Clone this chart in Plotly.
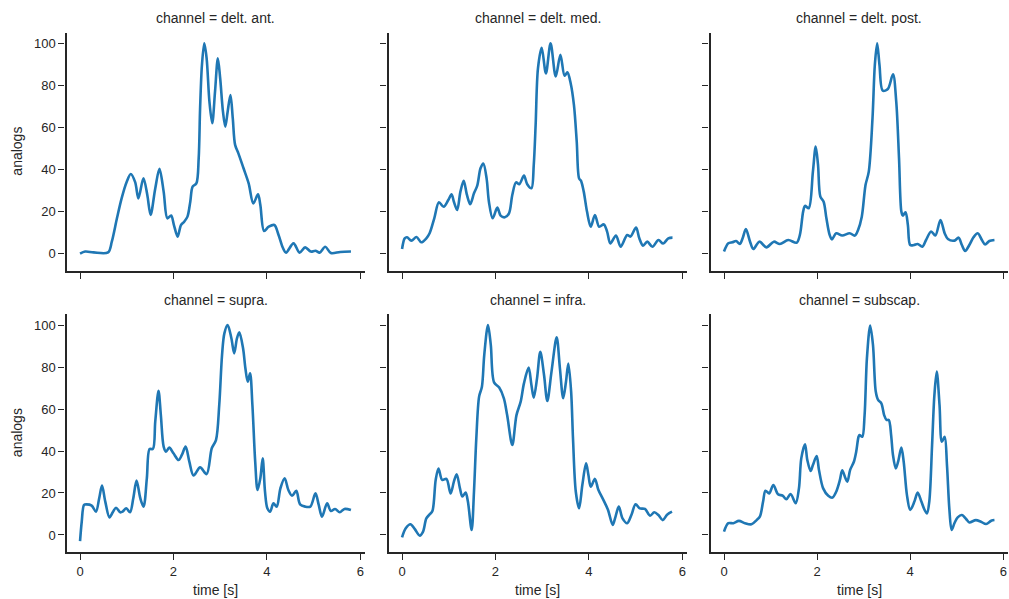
import plotly.graph_objects as go

channels = ["delt. ant.", "delt. med.", "delt. post.", "supra.", "infra.", "subscap."]

t_delt_ant = [0, 0.11, 0.29, 0.6, 0.68, 0.79, 0.89, 1.0, 1.086, 1.18, 1.25, 1.357, 1.44, 1.51, 1.61, 1.7, 1.79, 1.87, 1.95, 2.01, 2.09, 2.16, 2.23, 2.3, 2.36, 2.41, 2.49, 2.54, 2.57, 2.61, 2.66, 2.71, 2.77, 2.83, 2.89, 2.95, 3.0, 3.06, 3.11, 3.16, 3.22, 3.27, 3.32, 3.39, 3.5, 3.61, 3.71, 3.81, 3.86, 3.94, 4.04, 4.16, 4.25, 4.34, 4.41, 4.57, 4.7, 4.82, 4.94, 5.04, 5.13, 5.25, 5.37, 5.57, 5.8]
v_delt_ant = [0, 1.0, 0.6, 0.6, 5.7, 16.8, 26.3, 34.2, 37.9, 34.0, 26.3, 35.8, 27.9, 18.4, 31.0, 40.3, 29.5, 16.8, 18.1, 13.6, 8.1, 13.6, 15.2, 17.6, 24.7, 31.9, 33.4, 45.3, 69.0, 89.7, 100.0, 92.9, 72.3, 62.0, 77.0, 92.9, 83.4, 67.5, 60.4, 67.5, 75.4, 64.3, 51.7, 47.7, 40.6, 33.4, 23.9, 28.2, 23.1, 10.8, 12.8, 13.6, 8.9, 2.9, 0.5, 4.9, 0.5, 3.0, 1.0, 1.4, 0.5, 3.3, 0.3, 0.8, 1.0]

t_delt_med = [0, 0.057, 0.107, 0.2, 0.31, 0.41, 0.52, 0.59, 0.69, 0.79, 0.89, 0.99, 1.06, 1.11, 1.18, 1.25, 1.32, 1.39, 1.46, 1.54, 1.61, 1.68, 1.74, 1.81, 1.86, 1.94, 2.04, 2.11, 2.2, 2.29, 2.36, 2.44, 2.51, 2.61, 2.68, 2.77, 2.82, 2.86, 2.91, 2.99, 3.08, 3.18, 3.29, 3.39, 3.48, 3.54, 3.61, 3.68, 3.74, 3.79, 3.83, 3.89, 3.96, 4.04, 4.13, 4.22, 4.32, 4.39, 4.46, 4.58, 4.68, 4.82, 4.89, 5.01, 5.08, 5.16, 5.25, 5.36, 5.49, 5.59, 5.7, 5.79]
v_delt_med = [2.2, 7.3, 7.8, 6.2, 7.9, 5.4, 7.3, 9.7, 16.8, 24.4, 22.3, 25.5, 28.2, 24.7, 20.8, 29.5, 34.7, 27.9, 23.5, 28.7, 32.3, 40.6, 42.9, 35.8, 24.7, 16.8, 21.9, 18.1, 17.3, 19.2, 27.9, 33.9, 33.0, 37.1, 33.0, 31.1, 42.2, 61.2, 88.1, 97.9, 85.7, 100.0, 84.2, 94.5, 84.6, 86.2, 81.0, 70.7, 53.2, 35.8, 34.7, 29.5, 20.0, 12.8, 18.4, 12.8, 13.9, 10.5, 4.9, 8.6, 3.3, 8.9, 8.1, 12.4, 7.3, 3.8, 5.7, 3.3, 6.5, 4.8, 7.3, 7.6]

t_delt_post = [0, 0.093, 0.18, 0.26, 0.34, 0.4, 0.47, 0.56, 0.63, 0.76, 0.91, 1.07, 1.2, 1.38, 1.56, 1.63, 1.7, 1.74, 1.82, 1.91, 1.97, 2.02, 2.07, 2.14, 2.2, 2.27, 2.32, 2.41, 2.54, 2.7, 2.81, 2.88, 2.96, 3.04, 3.11, 3.19, 3.24, 3.29, 3.34, 3.41, 3.52, 3.63, 3.7, 3.76, 3.81, 3.84, 3.9, 3.95, 4.0, 4.08, 4.16, 4.26, 4.34, 4.45, 4.54, 4.65, 4.74, 4.81, 4.95, 5.04, 5.11, 5.18, 5.27, 5.36, 5.45, 5.54, 5.61, 5.7, 5.81]
v_delt_post = [1.0, 4.9, 5.4, 6.0, 4.6, 7.3, 11.7, 5.7, 2.2, 5.7, 3.0, 5.7, 4.6, 6.5, 5.2, 8.9, 20.0, 22.7, 21.6, 39.0, 50.9, 42.2, 27.1, 24.7, 16.8, 8.9, 6.8, 9.7, 8.6, 9.7, 8.6, 11.3, 17.6, 32.6, 39.0, 64.3, 89.7, 100.0, 89.7, 77.5, 78.3, 85.3, 72.3, 45.3, 20.0, 18.1, 19.7, 13.6, 4.1, 4.1, 4.6, 3.3, 6.5, 10.5, 8.6, 16.0, 9.7, 7.0, 6.2, 7.6, 4.1, 1.3, 4.1, 7.8, 9.7, 6.5, 4.4, 6.0, 6.5]

t_supra = [0, 0.036, 0.086, 0.14, 0.25, 0.34, 0.41, 0.47, 0.54, 0.63, 0.7, 0.77, 0.86, 0.91, 0.99, 1.07, 1.14, 1.21, 1.29, 1.36, 1.43, 1.49, 1.56, 1.61, 1.68, 1.73, 1.79, 1.84, 1.91, 2.0, 2.11, 2.18, 2.26, 2.34, 2.43, 2.57, 2.71, 2.82, 2.91, 2.98, 3.04, 3.09, 3.16, 3.24, 3.3, 3.36, 3.41, 3.49, 3.54, 3.59, 3.64, 3.69, 3.75, 3.8, 3.86, 3.91, 3.96, 4.01, 4.07, 4.14, 4.21, 4.29, 4.38, 4.46, 4.54, 4.63, 4.71, 4.82, 4.93, 5.04, 5.11, 5.18, 5.29, 5.37, 5.46, 5.56, 5.66, 5.8]
v_supra = [-2.9, 6.3, 14.3, 14.6, 14.0, 11.1, 17.5, 23.5, 15.9, 8.4, 10.8, 13.0, 10.8, 11.1, 12.7, 10.8, 17.5, 25.9, 17.5, 13.5, 27.0, 41.0, 41.0, 54.0, 68.7, 57.1, 42.1, 39.7, 41.6, 38.9, 35.7, 38.1, 42.1, 34.9, 28.3, 32.2, 29.0, 41.3, 45.2, 61.9, 85.7, 96.0, 100.0, 93.7, 86.5, 93.7, 96.5, 88.9, 79.4, 73.0, 77.0, 61.9, 34.9, 21.4, 27.0, 36.5, 20.6, 12.7, 11.1, 15.1, 13.5, 22.2, 27.0, 21.4, 18.7, 21.0, 14.6, 13.5, 13.5, 19.8, 14.3, 8.7, 15.1, 11.4, 12.4, 10.8, 12.4, 11.9]

t_infra = [0, 0.079, 0.18, 0.27, 0.38, 0.45, 0.52, 0.59, 0.65, 0.72, 0.78, 0.86, 0.95, 1.04, 1.11, 1.17, 1.24, 1.29, 1.36, 1.41, 1.49, 1.54, 1.59, 1.65, 1.71, 1.76, 1.84, 1.9, 1.97, 2.08, 2.18, 2.25, 2.36, 2.45, 2.54, 2.61, 2.71, 2.77, 2.82, 2.89, 2.96, 3.04, 3.11, 3.2, 3.31, 3.38, 3.45, 3.51, 3.56, 3.62, 3.66, 3.72, 3.79, 3.86, 3.94, 3.99, 4.04, 4.13, 4.2, 4.31, 4.41, 4.51, 4.56, 4.64, 4.72, 4.82, 4.91, 5.0, 5.09, 5.2, 5.31, 5.4, 5.49, 5.58, 5.68, 5.78]
v_infra = [-1.1, 3.2, 5.1, 2.9, -0.3, 1.6, 7.9, 9.8, 11.4, 26.2, 31.7, 26.2, 26.7, 19.8, 25.4, 28.9, 22.2, 18.3, 20.2, 15.9, 2.4, 20.6, 46.0, 65.9, 70.6, 85.7, 100.0, 90.5, 72.7, 70.2, 65.1, 57.1, 42.9, 57.1, 63.5, 72.2, 79.7, 71.4, 65.4, 74.6, 87.3, 76.2, 63.8, 77.8, 94.1, 79.4, 65.1, 73.0, 81.7, 68.3, 46.0, 20.6, 12.7, 23.8, 34.1, 28.6, 23.0, 26.7, 21.7, 16.7, 11.9, 4.8, 7.9, 13.5, 7.9, 5.6, 9.5, 14.6, 12.7, 12.4, 9.2, 10.8, 9.5, 7.1, 9.8, 11.1]

t_subscap = [0, 0.093, 0.2, 0.32, 0.45, 0.59, 0.7, 0.77, 0.84, 0.89, 0.97, 1.06, 1.16, 1.26, 1.34, 1.43, 1.54, 1.61, 1.66, 1.74, 1.79, 1.86, 1.91, 1.99, 2.04, 2.13, 2.24, 2.33, 2.41, 2.49, 2.54, 2.61, 2.65, 2.71, 2.79, 2.84, 2.89, 2.91, 2.97, 3.02, 3.07, 3.14, 3.2, 3.26, 3.31, 3.38, 3.44, 3.49, 3.54, 3.59, 3.63, 3.69, 3.74, 3.81, 3.86, 3.93, 4.0, 4.09, 4.16, 4.24, 4.31, 4.36, 4.41, 4.47, 4.52, 4.57, 4.63, 4.68, 4.74, 4.79, 4.84, 4.89, 4.95, 5.02, 5.11, 5.2, 5.27, 5.41, 5.52, 5.63, 5.74, 5.81]
v_subscap = [1.6, 5.6, 5.6, 6.7, 5.6, 5.1, 7.1, 8.7, 15.9, 21.1, 19.8, 23.8, 19.4, 18.7, 17.0, 19.5, 15.1, 22.2, 36.5, 43.2, 35.7, 30.5, 33.3, 37.6, 31.0, 22.2, 18.7, 17.8, 20.6, 26.2, 30.8, 27.0, 25.4, 31.0, 34.9, 39.7, 46.8, 47.6, 46.8, 57.1, 84.1, 99.7, 90.5, 68.3, 64.3, 62.7, 57.1, 54.8, 54.8, 47.6, 38.1, 31.7, 34.9, 41.6, 34.9, 19.0, 11.9, 15.9, 20.2, 15.9, 11.9, 10.3, 15.9, 42.9, 66.7, 77.8, 61.9, 44.4, 46.8, 33.3, 12.7, 2.4, 5.6, 8.4, 9.5, 7.6, 6.0, 7.1, 6.3, 5.2, 6.8, 7.1]

times = [t_delt_ant, t_delt_med, t_delt_post, t_supra, t_infra, t_subscap]
values = [v_delt_ant, v_delt_med, v_delt_post, v_supra, v_infra, v_subscap]

y_ticks = [0, 20, 40, 60, 80, 100]
x_ticks = [0, 2, 4, 6]

W, H = 1009, 599
col_px = [(66.5, 364.5), (388.5, 686.5), (710.5, 1007.5)]
row_px = [(32.5, 270.8), (314.2, 552.1)]  # top, bottom (pixels from top)

INK = "#262626"
FONT = "Liberation Sans, Arial, sans-serif"
LINE = "#1f77b4"

def px_x(p):
    return p / W

def px_y(p):
    return (H - p) / H

fig = go.Figure()
annotations = []
for i, ch in enumerate(channels):
    r, c = divmod(i, 3)
    n = i + 1
    xa = "x" if n == 1 else f"x{n}"
    ya = "y" if n == 1 else f"y{n}"
    fig.add_trace(go.Scatter(x=times[i], y=values[i], mode="lines",
                             line=dict(color=LINE, width=2.6, shape="spline", smoothing=0.9),
                             xaxis=xa, yaxis=ya, showlegend=False, hoverinfo="skip"))
    x0, x1 = col_px[c]
    t0, t1 = row_px[r]
    xdom = [px_x(x0), min(px_x(x1), 1.0)]
    ydom = [px_y(t1), px_y(t0)]
    common = dict(showline=True, linewidth=2.2, linecolor=INK, ticks="outside",
                  ticklen=6, tickwidth=1.4, tickcolor=INK, showgrid=False,
                  zeroline=False, ticklabeloverflow="allow",
                  tickfont=dict(family=FONT, size=13, color=INK))
    xkey = "xaxis" if n == 1 else f"xaxis{n}"
    ykey = "yaxis" if n == 1 else f"yaxis{n}"
    fig.update_layout(**{
        xkey: dict(domain=xdom, range=[-0.29, 6.09], anchor=ya, tickvals=x_ticks,
                   showticklabels=(r == 1), **common),
        ykey: dict(domain=ydom, range=[-8.15, 105.15], anchor=xa, tickvals=y_ticks,
                   showticklabels=(c == 0), **common),
    })
    annotations.append(dict(text=f"channel = {ch}", x=px_x((x0 + x1) / 2), y=px_y(t0 - 14.5),
                            xref="paper", yref="paper", showarrow=False, xanchor="center",
                            yanchor="middle", font=dict(family=FONT, size=14, color=INK)))
    if r == 1:
        annotations.append(dict(text="time [s]", x=px_x((x0 + x1) / 2), y=px_y(590),
                                xref="paper", yref="paper", showarrow=False, xanchor="center",
                                yanchor="middle", font=dict(family=FONT, size=14, color=INK)))
    if c == 0:
        annotations.append(dict(text="analogs", x=px_x(17), y=px_y((t0 + t1) / 2),
                                xref="paper", yref="paper", showarrow=False, xanchor="center",
                                yanchor="middle", textangle=-90,
                                font=dict(family=FONT, size=14, color=INK)))

fig.update_layout(width=W, height=H, margin=dict(l=0, r=0, t=0, b=0),
                  paper_bgcolor="white", plot_bgcolor="white", annotations=annotations)
# remove the default 8px page margin so the 1009x599 figure fills the window exactly
fig.write_html("out.html", config={"displayModeBar": False},
               post_script="document.body.style.margin='0';"
                           "document.documentElement.style.overflow='hidden';")
